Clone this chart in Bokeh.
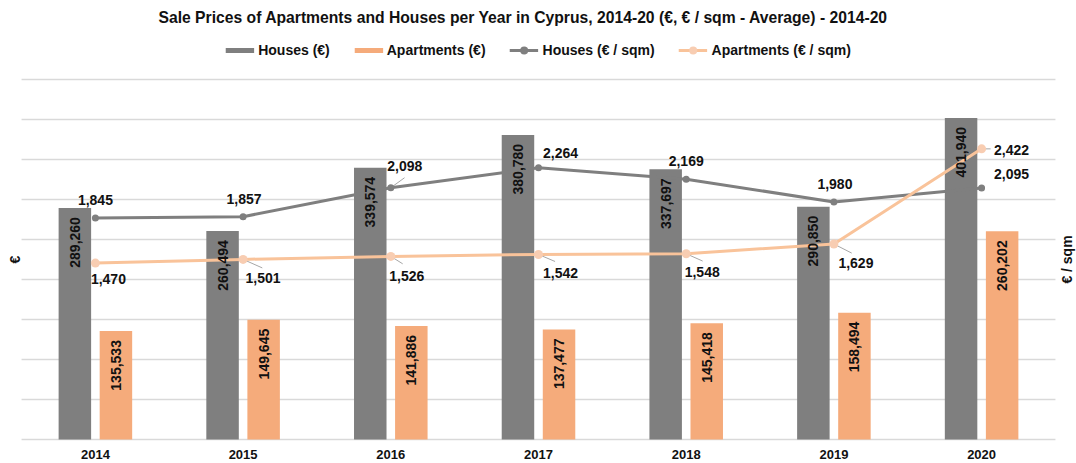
import math
from bokeh.plotting import figure
from bokeh.models import ColumnDataSource, Range1d, FactorRange, Legend, LegendItem
from bokeh.transform import dodge
from bokeh.embed import file_html
from bokeh.resources import INLINE
from bokeh.core.properties import value

# ---------------- data ----------------
years = ["2014", "2015", "2016", "2017", "2018", "2019", "2020"]
houses_eur = [289260, 260494, 339574, 380780, 337697, 290850, 401940]
apartments_eur = [135533, 149645, 141886, 137477, 145418, 158494, 260202]
houses_sqm = [1845, 1857, 2098, 2264, 2169, 1980, 2095]
apartments_sqm = [1470, 1501, 1526, 1542, 1548, 1629, 2422]
eur_ticks = [0, 50000, 100000, 150000, 200000, 250000, 300000, 350000, 400000, 450000]
eur_max = 450000
sqm_max = 3000

title_text = "Sale Prices of Apartments and Houses per Year in Cyprus, 2014-20 (€, € / sqm - Average) - 2014-20"
legend_labels = ["Houses (€)", "Apartments (€)", "Houses (€ / sqm)", "Apartments (€ / sqm)"]
left_title = "€"
right_title = "€ / sqm"

# ---------------- layout / styles ----------------
W, H = 1076, 463
TOP_PX, BASE_PX = 79, 439          # pixel rows of the top and zero gridlines
SIDE_PAD = 0.1425                  # category units on each side of the plot area
FONT = "Liberation Sans"
TXT = "#111111"
C_HOUSE = "#7F7F7F"
C_APT = "#F5AB7B"
C_APT_LINE = "#F9C39A"
C_APT_MARK = "#F8CDB2"
C_LEADER = "#A6A6A6"
C_GRID = "#D9D9D9"

# label offsets (pixels) for line data labels (y positive = down)
h_dx = [0, 1, 14, 22, 0, 1, 30]
h_dy = [-18, -18, -22, -15, -18, -18, -14]
a_dx = [13, 20, 16, 22, 16, 22, 30]
a_dy = [16, 19, 20, 19, 18, 19, 1]
# leader lines (pixel length, degrees)
h_lead_len = [None, None, 17, None, None, None, None]
h_lead_ang = [0, 0, 36, 0, 0, 0, 0]
a_lead_len = [None, 21, 14, 18, 18, 20, 9]
a_lead_ang = [0, -24, -32, -23, -24, -27, 0]

def fmt(v):
    return f"{v:,}"

src = ColumnDataSource(dict(
    year=years, houses=houses_eur, apts=apartments_eur,
    hs=houses_sqm, asq=apartments_sqm,
    base=[eur_ticks[0]] * len(years),
    h_lbl=[fmt(v) for v in houses_eur], a_lbl=[fmt(v) for v in apartments_eur],
    hs_lbl=[fmt(v) for v in houses_sqm], as_lbl=[fmt(v) for v in apartments_sqm],
    h_dx=h_dx, h_dy=h_dy, a_dx=a_dx, a_dy=a_dy,
))

def leader_source(ys, lens, angs):
    idx = [i for i, L in enumerate(lens) if L is not None]
    return ColumnDataSource(dict(
        year=[years[i] for i in idx], y=[ys[i] for i in idx],
        length=[lens[i] for i in idx], angle=[angs[i] for i in idx]))

# ranges: the frame fills the canvas; plot area placed by pixel constants
eur_per_px = eur_max / (BASE_PX - TOP_PX)
sqm_per_px = sqm_max / (BASE_PX - TOP_PX)
y_rng = Range1d(-(H - BASE_PX) * eur_per_px, eur_max + TOP_PX * eur_per_px)
sqm_rng = Range1d(-(H - BASE_PX) * sqm_per_px, sqm_max + TOP_PX * sqm_per_px)
x_rng = FactorRange(*years, range_padding=SIDE_PAD, range_padding_units="absolute")

p = figure(x_range=x_rng, y_range=y_rng, width=W, height=H,
           output_backend="svg", toolbar_location=None,
           x_axis_location=None, y_axis_location=None,
           min_border_left=0, min_border_right=0, min_border_top=0, min_border_bottom=0)
p.extra_y_ranges = {"sqm": sqm_rng}
p.outline_line_color = None
p.background_fill_color = "white"
p.border_fill_color = "white"
p.grid.visible = False

n = len(years)
# horizontal gridlines across the category span
p.segment(x0=[0] * len(eur_ticks), x1=[n] * len(eur_ticks), y0=eur_ticks, y1=eur_ticks,
          line_color=C_GRID, line_width=1.3)

OFF = 0.139
BW = 0.22
p.vbar(x=dodge("year", -OFF, range=p.x_range), top="houses", width=BW, source=src,
       fill_color=C_HOUSE, line_color=None)
p.vbar(x=dodge("year", OFF, range=p.x_range), top="apts", width=BW, source=src,
       fill_color=C_APT, line_color=None)

# leader lines
p.ray(x="year", y="y", length="length", angle="angle", length_units="screen",
      angle_units="deg", source=leader_source(houses_sqm, h_lead_len, h_lead_ang),
      y_range_name="sqm", line_color=C_LEADER, line_width=1)
p.ray(x="year", y="y", length="length", angle="angle", length_units="screen",
      angle_units="deg", source=leader_source(apartments_sqm, a_lead_len, a_lead_ang),
      y_range_name="sqm", line_color=C_LEADER, line_width=1)

hl = p.line(x="year", y="hs", source=src, y_range_name="sqm", line_color=C_HOUSE, line_width=3)
hm = p.scatter(x="year", y="hs", source=src, y_range_name="sqm", size=7,
               fill_color=C_HOUSE, line_color=None)
al = p.line(x="year", y="asq", source=src, y_range_name="sqm", line_color=C_APT_LINE, line_width=3)
am = p.scatter(x="year", y="asq", source=src, y_range_name="sqm", size=9,
               fill_color=C_APT_MARK, line_color=None)

txt_kw = dict(text_font=value(FONT), text_font_size="14px", text_font_style="bold",
              text_color=TXT)
# bar value labels (inside end, rotated)
p.text(x=dodge("year", -OFF, range=p.x_range), y="houses", text="h_lbl", source=src,
       angle=math.pi / 2, text_align="right", text_baseline="middle", y_offset=9, **txt_kw)
p.text(x=dodge("year", OFF, range=p.x_range), y="apts", text="a_lbl", source=src,
       angle=math.pi / 2, text_align="right", text_baseline="middle", y_offset=9, **txt_kw)
# line value labels
p.text(x="year", y="hs", text="hs_lbl", source=src, y_range_name="sqm",
       x_offset="h_dx", y_offset="h_dy", text_align="center", text_baseline="middle", **txt_kw)
p.text(x="year", y="asq", text="as_lbl", source=src, y_range_name="sqm",
       x_offset="a_dx", y_offset="a_dy", text_align="center", text_baseline="middle", **txt_kw)

# category (year) labels under the plot
p.text(x="year", y="base", text="year", source=src, y_offset=15, text_align="center",
       text_baseline="middle", text_font=value(FONT), text_font_size="13px",
       text_font_style="bold", text_color=TXT)

# axis titles
p.text(x=[0], y=[eur_max / 2], text=[left_title], x_offset=-7, angle=math.pi / 2,
       text_align="center", text_baseline="middle", **txt_kw)
p.text(x=[n], y=[sqm_max / 2], text=[right_title], y_range_name="sqm", x_offset=12,
       angle=math.pi / 2, text_align="center", text_baseline="middle", **txt_kw)

# chart title
p.text(x=[n / 2], y=[eur_max], text=[title_text], x_offset=-15, y_offset=-(TOP_PX - 17),
       text_align="center", text_baseline="middle", text_font=value(FONT),
       text_font_size="15.7px", text_font_style="bold", text_color=TXT)

# legend (bar swatches drawn as thick lines, like the original)
proxy_h = p.line(x=[years[0]], y=[float("nan")], line_color=C_HOUSE, line_width=5)
proxy_a = p.line(x=[years[0]], y=[float("nan")], line_color=C_APT, line_width=5)
legend = Legend(items=[
    LegendItem(label=legend_labels[0], renderers=[proxy_h]),
    LegendItem(label=legend_labels[1], renderers=[proxy_a]),
    LegendItem(label=legend_labels[2], renderers=[hl, hm]),
    LegendItem(label=legend_labels[3], renderers=[al, am]),
], orientation="horizontal", location="top_center", glyph_width=29, glyph_height=20,
    label_standoff=4, spacing=24, padding=0, margin=40, border_line_color=None,
    background_fill_alpha=0, label_text_font=FONT, label_text_font_size="14px",
    label_text_font_style="bold", label_text_color=TXT)
p.add_layout(legend)

open("out.html", "w").write(file_html(p, INLINE))
